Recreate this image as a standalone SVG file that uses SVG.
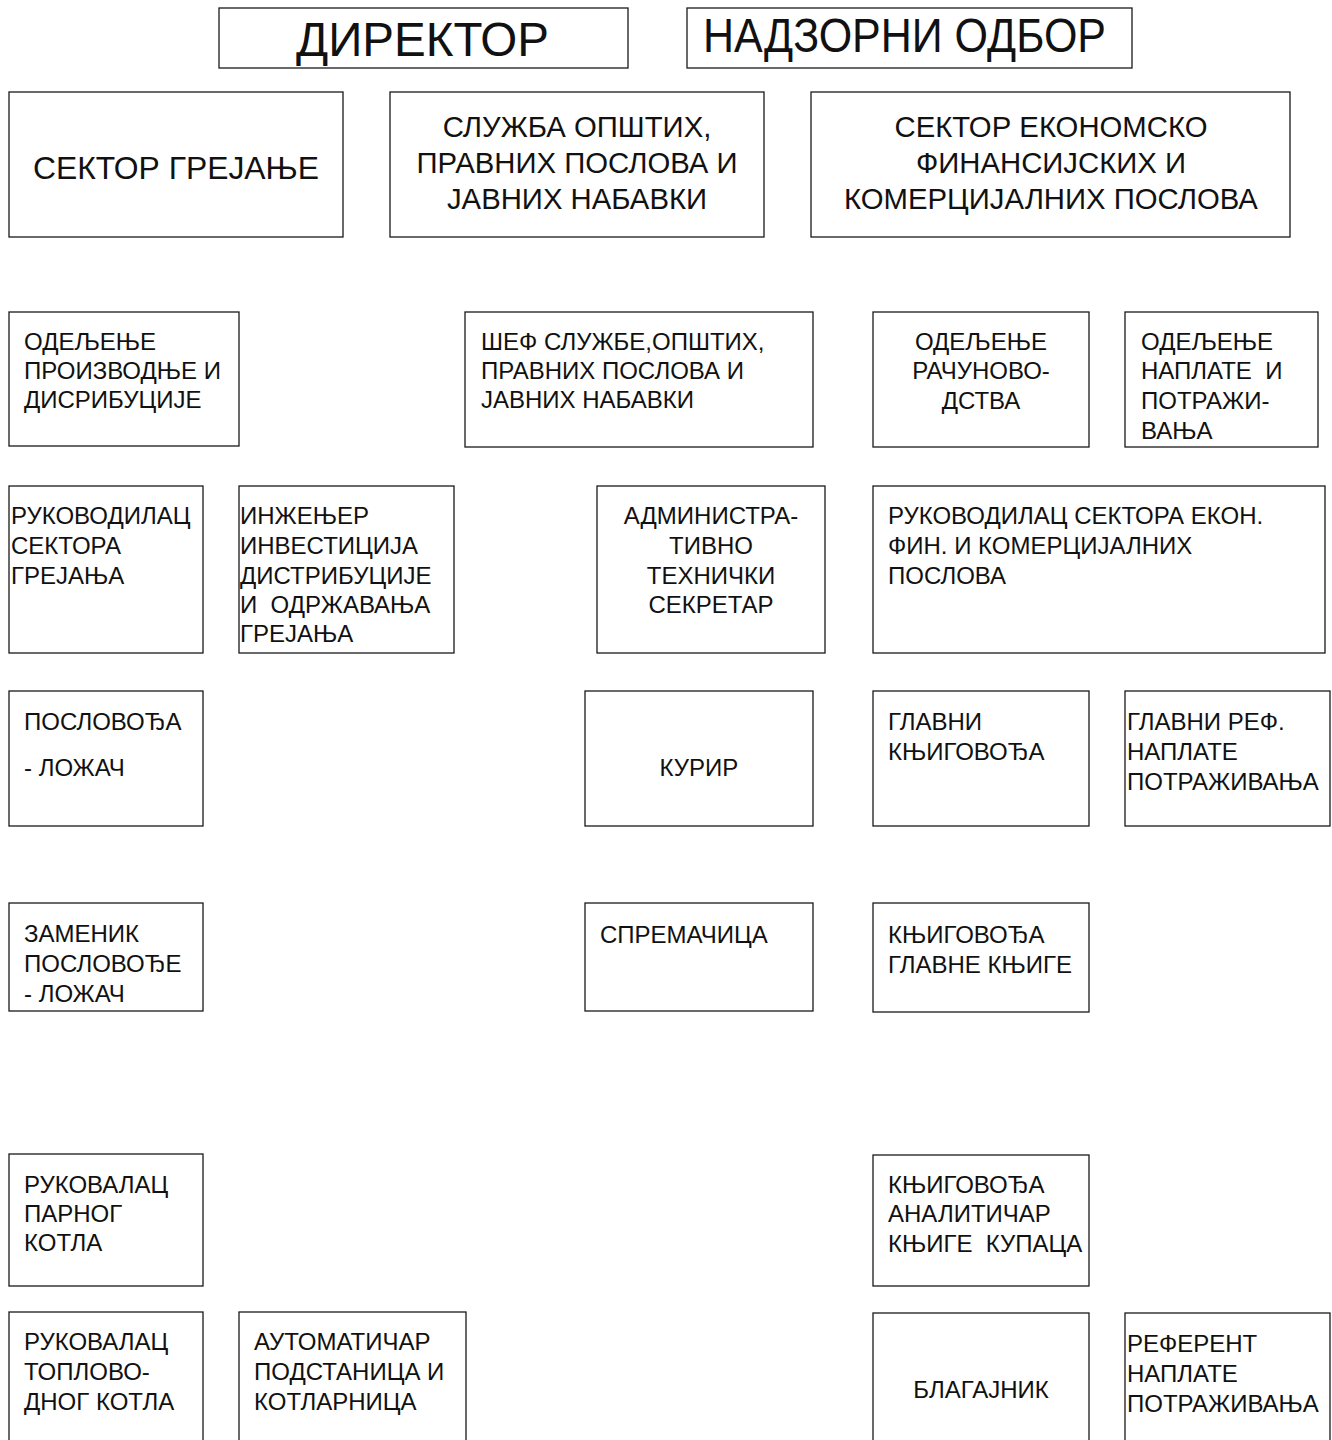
<svg xmlns="http://www.w3.org/2000/svg" width="1332" height="1440" viewBox="0 0 1332 1440">
<style>
.box{fill:none;stroke:#1a1a1a;stroke-width:1.3}
text{font-family:"Liberation Sans",Arial,sans-serif;fill:#111}
.s{font-size:24px}
.m{font-size:29.3px}
.l{font-size:48px}
.c{text-anchor:middle}
</style>
<rect width="1332" height="1440" fill="#fff"/>
<g id="connectors"/>
<g id="direktor"><rect class="box" x="219" y="8" width="409" height="60"/><text class="l" x="296" y="56" textLength="253" lengthAdjust="spacingAndGlyphs">ДИРЕКТОР</text></g>
<g id="nadzorni"><rect class="box" x="687" y="8" width="445" height="60"/><text class="l" x="703" y="52" textLength="403" lengthAdjust="spacingAndGlyphs">НАДЗОРНИ ОДБОР</text></g>

<g id="sektor-grejanje"><rect class="box" x="9" y="92" width="334" height="145"/><text class="c" x="176" y="179" font-size="31" textLength="286" lengthAdjust="spacingAndGlyphs">СЕКТОР ГРЕЈАЊЕ</text></g>
<g id="sluzba"><rect class="box" x="390" y="92" width="374" height="145"/>
<text class="m c" x="577" y="137">СЛУЖБА ОПШТИХ,</text><text class="m c" x="577" y="173">ПРАВНИХ ПОСЛОВА И</text><text class="m c" x="577" y="209">ЈАВНИХ НАБАВКИ</text></g>
<g id="sektor-ekon"><rect class="box" x="811" y="92" width="479" height="145"/>
<text class="m c" x="1051" y="137">СЕКТОР ЕКОНОМСКО</text><text class="m c" x="1051" y="173">ФИНАНСИЈСКИХ И</text><text class="m c" x="1051" y="209">КОМЕРЦИЈАЛНИХ ПОСЛОВА</text></g>

<g id="odeljenje-proizv"><rect class="box" x="9" y="312" width="230" height="134"/>
<text class="s" x="24" y="350">ОДЕЉЕЊЕ</text><text class="s" x="24" y="379">ПРОИЗВОДЊЕ И</text><text class="s" x="24" y="408">ДИСРИБУЦИЈЕ</text></g>
<g id="sef-sluzbe"><rect class="box" x="465" y="312" width="348" height="135"/>
<text class="s" x="481" y="350">ШЕФ СЛУЖБЕ,ОПШТИХ,</text><text class="s" x="481" y="379">ПРАВНИХ ПОСЛОВА И</text><text class="s" x="481" y="408">ЈАВНИХ НАБАВКИ</text></g>
<g id="odeljenje-racun"><rect class="box" x="873" y="312" width="216" height="135"/>
<text class="s c" x="981" y="350">ОДЕЉЕЊЕ</text><text class="s c" x="981" y="379">РАЧУНОВО-</text><text class="s c" x="981" y="409">ДСТВА</text></g>
<g id="odeljenje-naplate"><rect class="box" x="1125" y="312" width="193" height="135"/>
<text class="s" x="1141" y="350">ОДЕЉЕЊЕ</text><text class="s" x="1141" y="379">НАПЛАТЕ&#160; И</text><text class="s" x="1141" y="409">ПОТРАЖИ-</text><text class="s" x="1141" y="439">ВАЊА</text></g>

<g id="rukovodilac-grejanja"><rect class="box" x="9" y="486" width="194" height="167"/>
<text class="s" x="11" y="524">РУКОВОДИЛАЦ</text><text class="s" x="11" y="554">СЕКТОРА</text><text class="s" x="11" y="584">ГРЕЈАЊА</text></g>
<g id="inzenjer"><rect class="box" x="239" y="486" width="215" height="167"/>
<text class="s" x="240" y="524">ИНЖЕЊЕР</text><text class="s" x="240" y="554">ИНВЕСТИЦИЈА</text><text class="s" x="240" y="584">ДИСТРИБУЦИЈЕ</text><text class="s" x="240" y="613">И&#160; ОДРЖАВАЊА</text><text class="s" x="240" y="642">ГРЕЈАЊА</text></g>
<g id="admin-sekretar"><rect class="box" x="597" y="486" width="228" height="167"/>
<text class="s c" x="711" y="524">АДМИНИСТРА-</text><text class="s c" x="711" y="554">ТИВНО</text><text class="s c" x="711" y="584">ТЕХНИЧКИ</text><text class="s c" x="711" y="613">СЕКРЕТАР</text></g>
<g id="rukovodilac-ekon"><rect class="box" x="873" y="486" width="452" height="167"/>
<text class="s" x="888" y="524">РУКОВОДИЛАЦ СЕКТОРА ЕКОН.</text><text class="s" x="888" y="554">ФИН. И КОМЕРЦИЈАЛНИХ</text><text class="s" x="888" y="584">ПОСЛОВА</text></g>

<g id="poslovodja"><rect class="box" x="9" y="691" width="194" height="135"/>
<text class="s" x="24" y="730">ПОСЛОВОЂА</text><text class="s" x="24" y="776">- ЛОЖАЧ</text></g>
<g id="kurir"><rect class="box" x="585" y="691" width="228" height="135"/>
<text class="s c" x="699" y="776">КУРИР</text></g>
<g id="glavni-knjigovodja"><rect class="box" x="873" y="691" width="216" height="135"/>
<text class="s" x="888" y="730">ГЛАВНИ</text><text class="s" x="888" y="760">КЊИГОВОЂА</text></g>
<g id="glavni-ref"><rect class="box" x="1125" y="691" width="205" height="135"/>
<text class="s" x="1127" y="730">ГЛАВНИ РЕФ.</text><text class="s" x="1127" y="760">НАПЛАТЕ</text><text class="s" x="1127" y="790">ПОТРАЖИВАЊА</text></g>

<g id="zamenik"><rect class="box" x="9" y="903" width="194" height="108"/>
<text class="s" x="24" y="942">ЗАМЕНИК</text><text class="s" x="24" y="972">ПОСЛОВОЂЕ</text><text class="s" x="24" y="1002">- ЛОЖАЧ</text></g>
<g id="spremacica"><rect class="box" x="585" y="903" width="228" height="108"/>
<text class="s" x="600" y="943">СПРЕМАЧИЦА</text></g>
<g id="knjigovodja-gk"><rect class="box" x="873" y="903" width="216" height="109"/>
<text class="s" x="888" y="943">КЊИГОВОЂА</text><text class="s" x="888" y="973">ГЛАВНЕ КЊИГЕ</text></g>

<g id="rukovalac-parnog"><rect class="box" x="9" y="1154" width="194" height="132"/>
<text class="s" x="24" y="1193">РУКОВАЛАЦ</text><text class="s" x="24" y="1222">ПАРНОГ</text><text class="s" x="24" y="1251">КОТЛА</text></g>
<g id="knjigovodja-analiticar"><rect class="box" x="873" y="1155" width="216" height="131"/>
<text class="s" x="888" y="1193">КЊИГОВОЂА</text><text class="s" x="888" y="1222">АНАЛИТИЧАР</text><text class="s" x="888" y="1252">КЊИГЕ&#160; КУПАЦА</text></g>

<g id="rukovalac-toplovodnog"><rect class="box" x="9" y="1312" width="194" height="150"/>
<text class="s" x="24" y="1350">РУКОВАЛАЦ</text><text class="s" x="24" y="1380">ТОПЛОВО-</text><text class="s" x="24" y="1410">ДНОГ КОТЛА</text></g>
<g id="automaticar"><rect class="box" x="239" y="1312" width="227" height="150"/>
<text class="s" x="254" y="1350">АУТОМАТИЧАР</text><text class="s" x="254" y="1380">ПОДСТАНИЦА И</text><text class="s" x="254" y="1410">КОТЛАРНИЦА</text></g>
<g id="blagajnik"><rect class="box" x="873" y="1313" width="216" height="150"/>
<text class="s c" x="981" y="1398">БЛАГАЈНИК</text></g>
<g id="referent"><rect class="box" x="1125" y="1313" width="205" height="150"/>
<text class="s" x="1127" y="1352">РЕФЕРЕНТ</text><text class="s" x="1127" y="1382">НАПЛАТЕ</text><text class="s" x="1127" y="1412">ПОТРАЖИВАЊА</text></g>
</svg>
